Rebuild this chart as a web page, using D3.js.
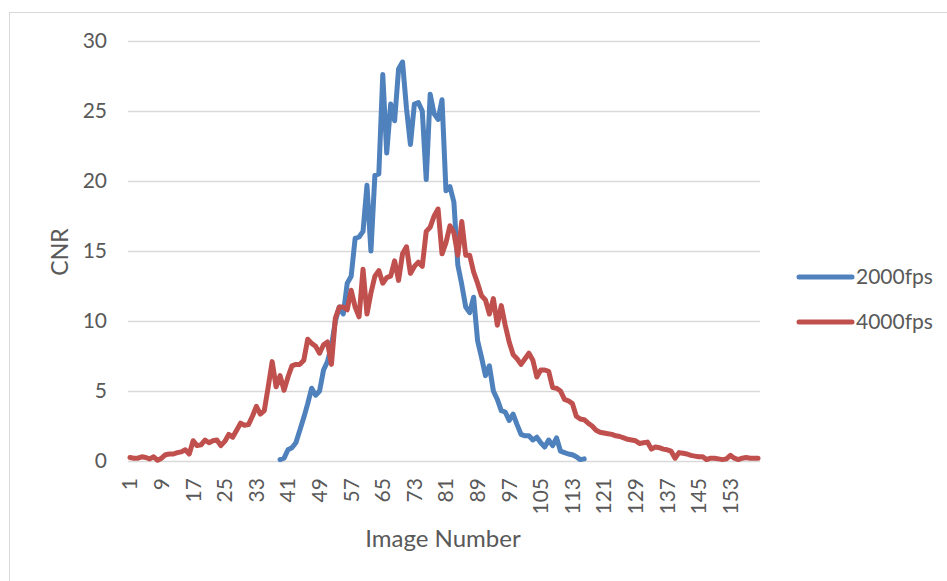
<script src="https://d3js.org/d3.v7.min.js"></script>
<style>
 body { margin: 0; background: #fff; }
 text { font-family: Lato, "Open Sans", sans-serif; fill: #595959; }
</style>
<svg id="chart" width="947" height="581"></svg>
<script>
 // image numbers 1..160
 var categories = d3.range(1, 161);
 var xTickLabels = [1, 9, 17, 25, 33, 41, 49, 57, 65, 73, 81, 89, 97, 105, 113, 121, 129, 137, 145, 153];
 var yTickLabels = [0, 5, 10, 15, 20, 25, 30];
 var seriesNames = ["2000fps", "4000fps"];

 // 2000fps: images 39..116
 var fps2000Start = 39;
 var fps2000 = [0.1, 0.2, 0.8, 0.95, 1.3, 2.2, 3.1, 4.1, 5.2, 4.7,
                5.0, 6.5, 7.1, 8.2, 10.0, 11.0, 10.5, 12.7, 13.2, 15.9,
                16.0, 16.4, 19.7, 15.0, 20.4, 20.5, 27.6, 22.0, 25.5, 24.3,
                28.0, 28.5, 25.2, 22.6, 25.5, 25.6, 25.0, 20.1, 26.2, 24.8,
                24.4, 25.8, 19.3, 19.6, 18.5, 14.0, 12.6, 11.0, 10.6, 11.7,
                8.6, 7.4, 6.1, 6.8, 5.0, 4.4, 3.6, 3.5, 2.9, 3.35,
                2.6, 1.9, 1.8, 1.8, 1.5, 1.7, 1.3, 1.0, 1.5, 1.1,
                1.65, 0.7, 0.6, 0.5, 0.45, 0.3, 0.1, 0.15];

 // 4000fps: images 1..160
 var fps4000 = [0.25, 0.2, 0.2, 0.3, 0.25, 0.15, 0.3, 0.05, 0.2, 0.45,
                0.5, 0.5, 0.6, 0.65, 0.8, 0.5, 1.45, 1.1, 1.15, 1.5,
                1.3, 1.45, 1.5, 1.1, 1.4, 1.9, 1.7, 2.2, 2.7, 2.55,
                2.6, 3.2, 3.9, 3.35, 3.6, 5.3, 7.1, 5.3, 6.1, 5.05,
                6.0, 6.8, 6.9, 6.9, 7.2, 8.7, 8.4, 8.2, 7.7, 8.3,
                8.5, 6.9, 10.2, 11.0, 11.0, 10.8, 12.2, 11.0, 10.3, 13.7,
                10.5, 12.0, 13.2, 13.6, 12.7, 13.1, 13.2, 14.3, 12.9, 14.8,
                15.3, 13.4, 13.9, 14.2, 13.9, 16.4, 16.7, 17.5, 18.0, 14.8,
                15.6, 16.8, 16.3, 14.7, 17.1, 14.7, 14.7, 13.5, 12.7, 11.8,
                11.5, 10.5, 11.6, 9.7, 11.1, 9.7, 8.5, 7.6, 7.3, 6.9,
                7.3, 7.7, 7.2, 6.0, 6.5, 6.5, 6.4, 5.25, 5.2, 5.0,
                4.4, 4.3, 4.1, 3.2, 3.0, 2.95, 2.7, 2.5, 2.2, 2.05,
                2.0, 1.95, 1.9, 1.8, 1.75, 1.65, 1.55, 1.5, 1.45, 1.25,
                1.3, 1.35, 0.85, 1.0, 0.95, 0.85, 0.8, 0.7, 0.2, 0.6,
                0.55, 0.5, 0.4, 0.35, 0.3, 0.3, 0.1, 0.2, 0.2, 0.15,
                0.1, 0.15, 0.4, 0.2, 0.1, 0.2, 0.25, 0.2, 0.2, 0.2];

 var colors = ["#4F81BD", "#C0504D"];

 var svg = d3.select("#chart");
 var plotLeft = 128, plotRight = 760, plotTop = 41, plotBottom = 461;

 // chart frame
 svg.append("rect").attr("x", 9.5).attr("y", 12.5).attr("width", 1000).attr("height", 1000)
    .attr("fill", "none").attr("stroke", "#D9D9D9").attr("stroke-width", 1);

 var x = d3.scaleBand().domain(categories).range([plotLeft, plotRight]);
 var y = d3.scaleLinear().domain([0, 30]).range([plotBottom, plotTop]);
 var cx = function (c) { return x(c) + x.bandwidth() / 2; };

 // y axis + gridlines
 var yAxis = svg.append("g").attr("transform", "translate(" + plotLeft + ",0)")
    .call(d3.axisLeft(y).tickValues(yTickLabels).tickSize(-(plotRight - plotLeft)).tickPadding(21));
 yAxis.select(".domain").remove();
 yAxis.selectAll("line").attr("stroke", "#D9D9D9").attr("stroke-width", 1.5);
 yAxis.selectAll("text").attr("font-size", "21px").attr("fill", "#595959")
    .style("font-family", "Lato, sans-serif");

 // x axis labels
 var xAxis = svg.append("g").attr("transform", "translate(0," + plotBottom + ")")
    .call(d3.axisBottom(x).tickValues(xTickLabels).tickSize(0));
 xAxis.select(".domain").remove();
 xAxis.selectAll("text")
    .attr("transform", "rotate(-90)")
    .attr("text-anchor", "end")
    .attr("x", -17).attr("y", 0).attr("dy", "0.35em")
    .attr("font-size", "21px").attr("fill", "#595959")
    .style("font-family", "Lato, sans-serif");

 // lines
 var line = d3.line()
    .x(function (d) { return cx(d.c); })
    .y(function (d) { return y(d.v); })
    .curve(d3.curveLinear);

 var series = [
   fps2000.map(function (v, i) { return {c: fps2000Start + i, v: v}; }),
   fps4000.map(function (v, i) { return {c: categories[i], v: v}; })
 ];

 series.forEach(function (s, k) {
   svg.append("path").datum(s)
      .attr("d", line)
      .attr("fill", "none")
      .attr("stroke", colors[k])
      .attr("stroke-width", 5)
      .attr("stroke-linejoin", "round")
      .attr("stroke-linecap", "round");
 });

 // axis titles
 svg.append("text").attr("transform", "translate(68,252) rotate(-90)")
    .attr("text-anchor", "middle").attr("font-size", "23px").text("CNR");
 svg.append("text").attr("x", 443).attr("y", 547)
    .attr("text-anchor", "middle").attr("font-size", "24px").text("Image Number");

 // legend
 var legend = svg.append("g");
 seriesNames.forEach(function (name, k) {
   var ly = 277 + k * 45;
   legend.append("line").attr("x1", 799).attr("x2", 852).attr("y1", ly).attr("y2", ly)
      .attr("stroke", colors[k]).attr("stroke-width", 5).attr("stroke-linecap", "round");
   legend.append("text").attr("x", 856).attr("y", ly).attr("dy", "0.35em")
      .attr("font-size", "21px").text(name);
 });
</script>
